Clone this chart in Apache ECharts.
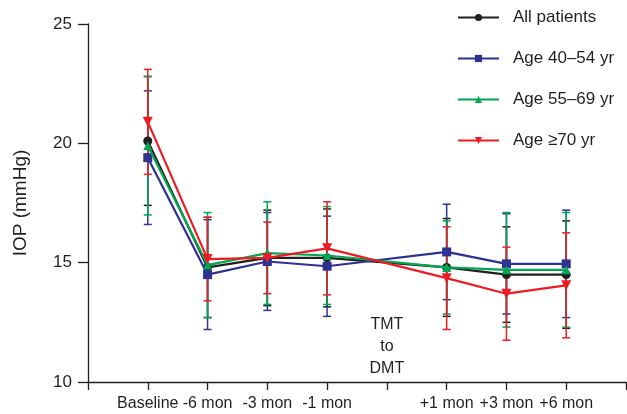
<!DOCTYPE html>
<html>
<head>
<meta charset="utf-8">
<script src="https://cdn.jsdelivr.net/npm/echarts@6/dist/echarts.min.js"></script>
<style>
  html, body { margin: 0; padding: 0; background: #fff; }
  #chart { width: 627px; height: 414px; }
</style>
</head>
<body>
<div id="chart"></div>
<script>
const categories = ['', 'Baseline', '-6 mon', '-3 mon', '-1 mon', '', '+1 mon', '+3 mon', '+6 mon', ''];

const allMean   = [null, 20.1, 14.8, 15.2, 15.2, null, 14.8, 14.5, 14.5, null];
const allSd     = [null, 2.7, 2.1, 2.0, 2.05, null, 2.05, 2.0, 2.25, null];
const age40Mean = [null, 19.4, 14.5, 15.05, 14.85, null, 15.45, 14.95, 14.95, null];
const age40Sd   = [null, 2.8, 2.3, 2.05, 2.1, null, 2.0, 2.1, 2.25, null];
const age55Mean = [null, 19.9, 14.9, 15.4, 15.3, null, 14.8, 14.7, 14.7, null];
const age55Sd   = [null, 2.9, 2.2, 2.15, 2.05, null, 1.95, 2.4, 2.4, null];
const age70Mean = [null, 20.9, 15.15, 15.2, 15.6, null, 14.35, 13.7, 14.05, null];
const age70Sd   = [null, 2.2, 1.75, 1.5, 1.95, null, 2.15, 1.95, 2.2, null];

const groups = [
  { name: 'All patients', mean: allMean, sd: allSd, color: '#231f20', symbol: 'circle', size: 9 },
  { name: 'Age 40\u201354 yr', mean: age40Mean, sd: age40Sd, color: '#2e3192', symbol: 'rect', size: 9 },
  { name: 'Age 55\u201369 yr', mean: age55Mean, sd: age55Sd, color: '#00a651', symbol: 'triangle', size: 9 },
  { name: 'Age \u226570 yr', mean: age70Mean, sd: age70Sd, color: '#ed1c24', symbol: 'path://M0,0 L10,0 L5,9 Z', size: 10 }
];

const font = 'Liberation Sans, Arial, sans-serif';
const ink = '#231f20';

var myChart = echarts.init(document.getElementById('chart'), null, { renderer: 'canvas' });

function errorBars(g, i) {
  const data = [];
  g.mean.forEach(function (m, k) {
    if (m != null) data.push([k, m - g.sd[k], m + g.sd[k]]);
  });
  return {
    type: 'custom',
    name: g.name + ' SD',
    z: 1 + i * 0.1,
    silent: true,
    data: data,
    encode: { x: 0, y: [1, 2] },
    renderItem: function (params, api) {
      const lo = api.coord([api.value(0), api.value(1)]);
      const hi = api.coord([api.value(0), api.value(2)]);
      const w = 4;
      const style = { stroke: g.color, lineWidth: 1.5 };
      return {
        type: 'group',
        children: [
          { type: 'line', shape: { x1: lo[0], y1: lo[1], x2: hi[0], y2: hi[1] }, style: style },
          { type: 'line', shape: { x1: lo[0] - w, y1: lo[1], x2: lo[0] + w, y2: lo[1] }, style: style },
          { type: 'line', shape: { x1: hi[0] - w, y1: hi[1], x2: hi[0] + w, y2: hi[1] }, style: style }
        ]
      };
    }
  };
}

const series = [];
groups.forEach(function (g, i) { series.push(errorBars(g, i)); });
groups.forEach(function (g, i) {
  series.push({
    type: 'line',
    name: g.name,
    z: 3 + i * 0.1,
    data: g.mean,
    connectNulls: true,
    symbol: g.symbol,
    symbolSize: g.size,
    showAllSymbol: true,
    lineStyle: { color: g.color, width: 2.2 },
    itemStyle: { color: g.color },
    emphasis: { disabled: true }
  });
});

const option = {
  animation: false,
  backgroundColor: '#fff',
  textStyle: { fontFamily: font },
  grid: { left: 88, right: 1, top: 24, bottom: 32, containLabel: false, outerBoundsMode: 'none' },
  legend: {
    orient: 'vertical',
    left: 457,
    top: 9,
    padding: 0,
    itemWidth: 41,
    itemHeight: 9,
    itemGap: 24,
    data: groups.map(function (g) { return g.name; }),
    textStyle: { fontFamily: font, fontSize: 17, color: ink, padding: [0, 0, 0, 9] }
  },
  xAxis: {
    type: 'category',
    data: categories,
    boundaryGap: false,
    axisLine: { lineStyle: { color: ink, width: 1.3 } },
    axisTick: { show: true, interval: 0, length: 8, lineStyle: { color: ink, width: 1.3 } },
    axisLabel: { interval: 0, margin: 14, fontSize: 16, color: ink, fontFamily: font },
    splitLine: { show: false }
  },
  yAxis: {
    type: 'value',
    min: 10,
    max: 25,
    interval: 5,
    name: 'IOP (mmHg)',
    nameLocation: 'middle',
    nameGap: 58,
    nameMoveOverlap: false,
    nameTextStyle: { fontSize: 19, color: ink, fontFamily: font },
    axisLine: { show: true, lineStyle: { color: ink, width: 1.3 } },
    axisTick: { show: true, length: 10, lineStyle: { color: ink, width: 1.3 } },
    axisLabel: { margin: 16, fontSize: 17, color: ink, fontFamily: font },
    splitLine: { show: false }
  },
  series: series
};

option && myChart.setOption(option);

// annotation between -1 mon and +1 mon
const p = myChart.convertToPixel({ xAxisIndex: 0, yAxisIndex: 0 }, [5, 11.5]);
myChart.setOption({
  graphic: [{
    type: 'text',
    x: p[0],
    y: p[1],
    silent: true,
    style: {
      text: 'TMT\nto\nDMT',
      fontSize: 16,
      fontFamily: font,
      fill: ink,
      align: 'center',
      verticalAlign: 'middle',
      lineHeight: 22
    }
  }]
});
</script>
</body>
</html>
